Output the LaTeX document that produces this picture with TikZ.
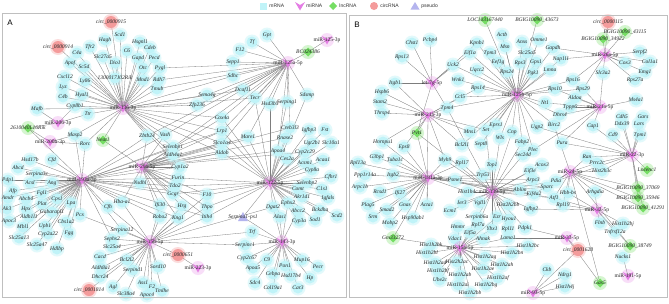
\documentclass[tikz,border=0pt]{standalone}
\usepackage{fontspec}
\setmainfont{Liberation Serif}
\newfontfamily\legf{Liberation Sans}
\pgfdeclarelayer{bg}\pgfdeclarelayer{mid}
\pgfsetlayers{bg,mid,main}
\definecolor{mrc}{RGB}{192,243,248}
\definecolor{mic}{RGB}{228,125,228}
\definecolor{lnc}{RGB}{118,222,100}
\definecolor{crc}{RGB}{244,155,155}
\definecolor{psc}{RGB}{180,180,238}
\definecolor{edc}{RGB}{125,125,125}
\tikzset{
 mt/.style={font=\fontsize{5.5}{6}\selectfont\itshape, inner sep=0.2pt, text=black!85},
 ht/.style={font=\fontsize{5.5}{6}\selectfont, inner sep=0.2pt, text=black!85},
 lt/.style={font=\legf\fontsize{5}{6}\selectfont, inner sep=0.2pt, anchor=west, text=black!80},
 ed/.style={draw=edc, line width=0.3pt},
 frame/.style={draw=black!25, line width=0.4pt},
}
\def\mrlist{}\def\milist{}\def\lnlist{}\def\crlist{}\def\pslist{}
\newcommand\addto[2]{\ifx#1\empty\xdef#1{#2}\else\xdef#1{#1,#2}\fi}
\newcommand\gMR[3]{\node[mt] (#1) at (#2) {#3};\addto\mrlist{#1}}
\newcommand\gMI[3]{\node[ht] (#1) at (#2) {#3};\addto\milist{#1}}
\newcommand\gLN[3]{\node[mt] (#1) at (#2) {#3};\addto\lnlist{#1}}
\newcommand\gCR[3]{\node[mt] (#1) at (#2) {#3};\addto\crlist{#1}}
\newcommand\gPS[3]{\node[mt] (#1) at (#2) {#3};\addto\pslist{#1}}
\newcommand\gE[2]{\foreach \t in {#2} \draw[ed] (#1.center) -- (\t.center);}
\begin{document}
\begin{tikzpicture}[x=1pt,y=-1pt]
\useasboundingbox (0,0) rectangle (669,303);
% frames
\draw[frame] (2,13) rectangle (346,297);
\draw[frame] (349,15) rectangle (667,297);
\node[font=\legf\fontsize{8}{9}\selectfont] (pA) at (10,23) {A};
\node[font=\legf\fontsize{8}{9}\selectfont] (pB) at (357,25) {B};
% legend
\fill[mrc] (259.5,2.5) rectangle (266.5,9.5);
\node[lt] (lg1) at (269,6) {mRNA};
\fill[mic,shift={(300,6)}] (-5,-4)--(0,-1)--(5,-4)--(0,4.5)--cycle;
\node[lt] (lg2) at (306,6) {miRNA};
\fill[lnc,shift={(333,6)}] (0,-4)--(4,0)--(0,4)--(-4,0)--cycle;
\node[lt] (lg3) at (339,6) {lncRNA};
\fill[crc] (374,6) circle (4pt);
\node[lt] (lg4) at (380,6) {circRNA};
\fill[psc,shift={(415,6)}] (0,-4)--(4.5,3.5)--(-4.5,3.5)--cycle;
\node[lt] (lg5) at (421,6) {pseudo};
% ================= PANEL A =================
\gCR{cA1}{111,22}{circ\_0000915}
\gCR{cA2}{58,47}{circ\_0000914}
\gCR{cA3}{178,255}{circ\_0000651}
\gCR{cA4}{89,290}{circ\_0001814}
\gLN{lA1}{308,52}{BC024386}
\gLN{lA2}{28,128}{2610040L16Rik}
\gLN{lA3}{103,140}{Neat1}
\gPS{pA1}{243,217}{Serpina1-ps1}
\gMR{a1}{90,47}{Tfr2}
\gMR{a2}{105,40}{Hagh}
\gMR{a3}{77,53}{C4a}
\gMR{a4}{103,57}{Slc27a5}
\gMR{a5}{70,63}{Apof}
\gMR{a6}{84,67}{Sc5d}
\gMR{a7}{65,77}{Cxcl12}
\gMR{a8}{85,81}{Ly86}
\gMR{a9}{115,78}{1300017J02Rik}
\gMR{a10}{63,87}{Lyz}
\gMR{a11}{82,95}{Hyal1}
\gMR{a12}{63,97}{C4b}
\gMR{a13}{75,106}{Cyp8b1}
\gMR{a14}{37,109}{Mafb}
\gMR{a15}{88,114}{Ttr}
\gMR{a16}{75,135}{Masp2}
\gMR{a17}{85,144}{Rorc}
\gMR{a18}{120,35}{Scd1}
\gMR{a19}{140,42}{Hsgnl1}
\gMR{a20}{150,48}{Cdeb}
\gMR{a21}{127,51}{C6}
\gMR{a22}{138,58}{Gapd}
\gMR{a23}{154,58}{Pecd}
\gMR{a24}{115,63}{Dio1}
\gMR{a25}{143,68}{Otc}
\gMR{a26}{160,68}{Pygl}
\gMR{a27}{143,80}{Mnd1}
\gMR{a28}{159,80}{Rdh7}
\gMR{a29}{157,89}{Tmub}
\gMR{a30}{207,95}{Sema4g}
\gMR{a31}{197,105}{Zfp236}
\gMR{a32}{222,118}{Cox4a}
\gMR{a33}{222,131}{Lrp1}
\gMR{a34}{147,136}{Zbtb24}
\gMR{a35}{165,135}{Vash}
\gMR{a36}{222,143}{Slco1a4}
\gMR{a37}{173,147}{Selenbp1}
\gMR{a38}{222,153}{Aldob}
\gMR{a39}{267,35}{Gpt}
\gMR{a40}{252,42}{Tf}
\gMR{a41}{240,50}{F12}
\gMR{a42}{233,62}{Sepp1}
\gMR{a43}{233,76}{Sdhc}
\gMR{a44}{243,90}{Dcaf11}
\gMR{a45}{255,98}{Tecr}
\gMR{a46}{270,104}{Hsd3b5}
\gMR{a47}{287,102}{Serping1}
\gMR{a48}{307,95}{Sdsmp}
\gMR{a49}{290,128}{Creb3l3}
\gMR{a50}{309,130}{Igfbp3}
\gMR{a51}{325,130}{Fst}
\gMR{a52}{248,137}{Mare1}
\gMR{a53}{285,138}{Rnase2}
\gMR{a54}{312,143}{Ugt2b1}
\gMR{a55}{331,143}{Slc10a1}
\gMR{a56}{278,151}{Apoa4}
\gMR{a57}{305,152}{Cyp2c29}
\gMR{a58}{30,160}{Hsd17b}
\gMR{a59}{52,160}{Cfd}
\gMR{a60}{18,168}{Abcd}
\gMR{a61}{37,174}{Serpina3c}
\gMR{a62}{8,180}{Pdp1}
\gMR{a63}{30,183}{Acsl}
\gMR{a64}{52,183}{Ang}
\gMR{a65}{13,191}{Afp}
\gMR{a66}{42,193}{Fgl1}
\gMR{a67}{8,198}{Amdr}
\gMR{a68}{26,199}{Abcb4}
\gMR{a69}{42,204}{Plat}
\gMR{a70}{57,199}{Cps1}
\gMR{a71}{26,209}{Hpx}
\gMR{a72}{7,209}{Ak3}
\gMR{a73}{71,203}{Lpa}
\gMR{a74}{29,217}{Aldh1l1}
\gMR{a75}{52,212}{Gabarapl1}
\gMR{a76}{9,221}{Apoc3}
\gMR{a77}{80,215}{Pcx}
\gMR{a78}{23,227}{Mbl1}
\gMR{a79}{45,226}{Upb1}
\gMR{a80}{66,222}{Cbs1a2}
\gMR{a81}{19,238}{Slc25a13}
\gMR{a82}{48,234}{Cyp2a22}
\gMR{a83}{69,233}{Fgg}
\gMR{a84}{37,245}{Slc25a47}
\gMR{a85}{57,249}{Hdlbp}
\gMR{a86}{108,207}{Cfh}
\gMR{a87}{122,230}{Serpina12}
\gMR{a88}{112,239}{Sephs2}
\gMR{a89}{112,247}{Slc25a4}
\gMR{a90}{100,257}{Cacd}
\gMR{a91}{101,268}{Aldh8a1}
\gMR{a92}{100,277}{Dhcr24}
\gMR{a93}{113,287}{Agl}
\gMR{a94}{173,155}{Aldh4a1}
\gMR{a95}{180,167}{Cyp1a2}
\gMR{a96}{140,183}{Nsdhl}
\gMR{a97}{178,178}{Furin}
\gMR{a98}{175,186}{Tdo2}
\gMR{a99}{173,194}{Gcgr}
\gMR{a100}{207,195}{F10}
\gMR{a101}{122,202}{Hba-a1}
\gMR{a102}{160,205}{Ifi30}
\gMR{a103}{182,206}{Hrg}
\gMR{a104}{207,207}{Thpo}
\gMR{a105}{160,217}{Robo2}
\gMR{a106}{178,218}{Kng1}
\gMR{a107}{207,217}{Itih4}
\gMR{a108}{127,260}{Bcl2l2}
\gMR{a109}{133,270}{Serpind1}
\gMR{a110}{158,267}{Sord10}
\gMR{a111}{143,283}{Ass1}
\gMR{a112}{152,287}{F2}
\gMR{a113}{162,291}{Tmlhe}
\gMR{a114}{126,294}{Slc38a4}
\gMR{a115}{147,295}{Apoc4}
\gMR{a116}{287,159}{Ces2a}
\gMR{a117}{305,163}{Acsm1}
\gMR{a118}{323,160}{Acaa1}
\gMR{a119}{312,170}{Cyp8a}
\gMR{a120}{307,183}{Selenbp2}
\gMR{a121}{331,177}{Cfhr1}
\gMR{a122}{298,189}{Comt}
\gMR{a123}{322,189}{C1s1}
\gMR{a124}{302,197}{Akr1d1}
\gMR{a125}{328,198}{Igfals}
\gMR{a126}{273,207}{Dgat2}
\gMR{a127}{288,203}{Ephx2}
\gMR{a128}{298,211}{Abcc2}
\gMR{a129}{320,210}{Bckdha}
\gMR{a130}{337,216}{Scd2}
\gMR{a131}{280,217}{Alas1}
\gMR{a132}{299,221}{Cyp3a}
\gMR{a133}{315,220}{Sod1}
\gMR{a134}{252,232}{Trf}
\gMR{a135}{245,245}{Serpinc1}
\gMR{a136}{247,258}{Cyp2c67}
\gMR{a137}{267,260}{C9}
\gMR{a138}{302,260}{Mup16}
\gMR{a139}{253,268}{Apoa5}
\gMR{a140}{285,266}{Pon1}
\gMR{a141}{318,267}{Pecr}
\gMR{a142}{273,274}{Cebpa}
\gMR{a143}{291,276}{Hsd17b4}
\gMR{a144}{310,278}{Hp}
\gMR{a145}{255,283}{Sdc4}
\gMR{a146}{273,288}{Col19a1}
\gMR{a147}{298,288}{Car3}
\gMI{hA1}{123,108}{miR-136-3p}
\gMI{hA2}{288,63}{miR-125a-5p}
\gMI{hA3}{327,40}{miR-125-3p}
\gMI{hA4}{82,180}{miR-193a-3p}
\gMI{hA5}{142,167}{miR-29a-5p}
\gMI{hA6}{150,242}{miR-15b-5p}
\gMI{hA7}{270,183}{miR-122-5p}
\gMI{hA8}{282,242}{miR-143-3p}
\gMI{hA9}{198,268}{miR-223-3p}
\gMI{hA10}{58,123}{miR-206-3p}
\gMI{hA11}{50,142}{miR-200b-3p}
% ================= PANEL B =================
\gCR{cB1}{608,22}{circ\_0000115}
\gCR{cB2}{578,250}{circ\_0001628}
\gLN{lB1}{485,20}{LOC103167440}
\gLN{lB2}{537,20}{BGIG10090\_43673}
\gLN{lB3}{625,32}{BGIG10090\_43115}
\gLN{lB4}{603,39}{BGIG10090\_34922}
\gLN{lB5}{417,133}{Pvt1}
\gLN{lB6}{393,238}{Gm33272}
\gLN{lB7}{647,170}{Lncenc1}
\gLN{lB8}{638,188}{BGIG10090\_37069}
\gLN{lB9}{638,198}{BGIG10090\_35946}
\gLN{lB10}{643,208}{BGIG10090\_41291}
\gLN{lB11}{630,246}{BGIG10090\_38749}
\gLN{lB12}{600,283}{Gas5}
\gMR{b1}{430,40}{Pcbp4}
\gMR{b2}{412,43}{Chst1}
\gMR{b3}{402,57}{Rps13}
\gMR{b4}{395,83}{Itgb1}
\gMR{b5}{382,92}{Hspb6}
\gMR{b6}{380,102}{Stam2}
\gMR{b7}{382,113}{Thrsp4}
\gMR{b8}{447,108}{Tpm4}
\gMR{b9}{383,142}{Hnrnpu1}
\gMR{b10}{404,147}{Eps8}
\gMR{b11}{502,35}{Actb}
\gMR{b12}{505,47}{Msn}
\gMR{b13}{477,43}{Kpnb1}
\gMR{b14}{522,42}{Anxs}
\gMR{b15}{539,40}{Omme1}
\gMR{b16}{470,53}{Eif1a}
\gMR{b17}{490,53}{Tpm3}
\gMR{b18}{527,53}{Slc25a5}
\gMR{b19}{553,48}{Gapdh}
\gMR{b20}{498,62}{Eef1g}
\gMR{b21}{520,63}{Rps3}
\gMR{b22}{536,62}{Gpx1}
\gMR{b23}{561,59}{Nap1l1}
\gMR{b24}{453,65}{Uck2}
\gMR{b25}{477,70}{Uqcc2}
\gMR{b26}{507,72}{Rps24}
\gMR{b27}{533,73}{Pgk1}
\gMR{b28}{550,70}{Lmna}
\gMR{b29}{458,80}{Wnk1}
\gMR{b30}{478,88}{Rps14}
\gMR{b31}{460,97}{Ccl5}
\gMR{b32}{555,89}{Rps10}
\gMR{b33}{573,80}{Rps16}
\gMR{b34}{583,89}{Rps29}
\gMR{b35}{545,103}{Nt1}
\gMR{b36}{575,98}{Aldoa}
\gMR{b37}{570,107}{Tppp6}
\gMR{b38}{470,132}{Mns1}
\gMR{b39}{486,130}{Set}
\gMR{b40}{496,125}{Eprs1}
\gMR{b41}{512,132}{Cnp}
\gMR{b42}{537,127}{Ugp2}
\gMR{b43}{554,125}{Birc2}
\gMR{b44}{462,145}{Bcl2l1}
\gMR{b45}{481,144}{Sept8}
\gMR{b46}{500,138}{Wls}
\gMR{b47}{522,142}{Fabp2}
\gMR{b48}{533,150}{Plec}
\gMR{b49}{562,143}{Pura}
\gMR{b50}{640,52}{Serpf2}
\gMR{b51}{650,62}{Col1a1}
\gMR{b52}{625,63}{Cox3}
\gMR{b53}{645,72}{Emg1}
\gMR{b54}{603,73}{Slc3a2}
\gMR{b55}{635,80}{Rps27a}
\gMR{b56}{636,100}{Ms4a1}
\gMR{b57}{560,115}{Dhrs4}
\gMR{b58}{622,117}{Cdh5}
\gMR{b59}{643,117}{Gars}
\gMR{b60}{622,124}{Ddx39}
\gMR{b61}{639,124}{Lars}
\gMR{b62}{593,126}{Cap1}
\gMR{b63}{613,135}{Cd9}
\gMR{b64}{640,135}{Tpm1}
\gMR{b65}{358,163}{Rpl13a}
\gMR{b66}{377,157}{G3bp1}
\gMR{b67}{395,160}{Tuba1c}
\gMR{b68}{445,160}{Myh9}
\gMR{b69}{365,175}{Ppp1r14a}
\gMR{b70}{393,175}{Itgb2}
\gMR{b71}{360,187}{Arpc1b}
\gMR{b72}{380,192}{Rcsd1}
\gMR{b73}{400,193}{Ifi27}
\gMR{b74}{368,205}{Plag5}
\gMR{b75}{387,210}{Smad2}
\gMR{b76}{405,205}{Gnas}
\gMR{b77}{427,205}{Acta1}
\gMR{b78}{373,217}{Srm}
\gMR{b79}{413,218}{Hsp90ab1}
\gMR{b80}{390,223}{Mobp2}
\gMR{b81}{431,245}{Hist1h2bk}
\gMR{b82}{427,253}{Hist1h2bl}
\gMR{b83}{435,263}{Hist1h2ad}
\gMR{b84}{438,271}{Hist1h2bf}
\gMR{b85}{440,280}{Ube2c}
\gMR{b86}{523,155}{Sec24d}
\gMR{b87}{462,163}{Rpl17}
\gMR{b88}{492,165}{Top1}
\gMR{b89}{542,165}{Acox3}
\gMR{b90}{530,171}{Eif3e}
\gMR{b91}{483,175}{Trp53}
\gMR{b92}{533,180}{Arpc3}
\gMR{b93}{556,181}{Pdia}
\gMR{b94}{455,180}{Psme1}
\gMR{b95}{468,192}{Hist1h4c}
\gMR{b96}{520,190}{Ablim}
\gMR{b97}{534,194}{Eif4a2}
\gMR{b98}{547,187}{Sparc}
\gMR{b99}{554,198}{Atf1}
\gMR{b100}{462,203}{Ier3}
\gMR{b101}{480,203}{Vgll1}
\gMR{b102}{508,205}{Hist2h2bb}
\gMR{b103}{531,209}{Igfbp2}
\gMR{b104}{450,211}{Ecm1}
\gMR{b105}{477,217}{Serpinb6a}
\gMR{b106}{497,217}{Ezr}
\gMR{b107}{509,219}{Hyou1}
\gMR{b108}{525,228}{Pdpk1}
\gMR{b109}{478,225}{Rpl7a}
\gMR{b110}{492,229}{Ybx1}
\gMR{b111}{508,229}{Rpl11}
\gMR{b112}{458,227}{Hmmr}
\gMR{b113}{470,233}{Eif5a}
\gMR{b114}{455,239}{Vdac1}
\gMR{b115}{483,239}{Ahnak}
\gMR{b116}{508,238}{Lama1}
\gMR{b117}{528,246}{Hist1h2bc}
\gMR{b118}{485,257}{Hist1h2ag}
\gMR{b119}{512,253}{Hist1h2bn}
\gMR{b120}{502,265}{Hist1h2ah}
\gMR{b121}{457,262}{Hist2h2ac}
\gMR{b122}{483,269}{Hist1h2ae}
\gMR{b123}{460,275}{Hist1h2ab}
\gMR{b124}{498,278}{Hist1h2af}
\gMR{b125}{458,285}{Hist1h2ai}
\gMR{b126}{486,285}{Hist1h2bg}
\gMR{b127}{470,293}{Hist1h2bb}
\gMR{b128}{547,270}{Ckb}
\gMR{b129}{587,157}{Ran}
\gMR{b130}{597,163}{Prrc2c}
\gMR{b131}{602,171}{Hist2h3c}
\gMR{b132}{595,192}{Arhgdia}
\gMR{b133}{568,193}{Hbb-bs}
\gMR{b134}{563,205}{Rpl19}
\gMR{b135}{600,223}{Flnb}
\gMR{b136}{623,224}{Hist1h2bj}
\gMR{b137}{615,232}{Tnfrsf12a}
\gMR{b138}{623,257}{Nucks1}
\gMR{b139}{565,275}{Ndrg1}
\gMR{b140}{565,287}{Hist1h4j}
\gMI{hB1}{432,83}{let-7g-5p}
\gMI{hB2}{428,115}{miR-21a-3p}
\gMI{hB3}{517,95}{miR-125b-5p}
\gMI{hB4}{605,55}{miR-26a-5p}
\gMI{hB5}{600,107}{miR-21a-5p}
\gMI{hB6}{632,155}{miR-22-3p}
\gMI{hB7}{428,178}{miR-181a-3p}
\gMI{hB8}{492,192}{miR-139-5p}
\gMI{hB9}{460,248}{miR-15a-5p}
\gMI{hB10}{570,172}{miR-24-5p}
\gMI{hB11}{597,210}{miR-32-5p}
\gMI{hB12}{567,238}{miR-33-5p}
\gMI{hB13}{628,276}{miR-191-5p}
\gMI{hB14}{533,293}{miR-93-5p}
% ================= SHAPES (one layer block) =================
\begin{pgfonlayer}{mid}
\foreach \n in \mrlist {\fill[mrc,opacity=0.45] (\n.center) circle (7.5pt);\fill[mrc] (\n.center) circle (5.5pt);}
\foreach \n in \crlist {\fill[crc,opacity=0.35] (\n.center) circle (8pt);\fill[crc] (\n.center) circle (6pt);}
\foreach \n in \lnlist {\fill[lnc,opacity=0.3] (\n.center) circle (7pt);\fill[lnc,shift={(\n.center)}] (0,-4.5)--(4.5,0)--(0,4.5)--(-4.5,0)--cycle;}
\foreach \n in \pslist {\fill[psc,shift={(\n.center)}] (0,-5)--(5,4)--(-5,4)--cycle;}
\foreach \n in \milist {\fill[mic,opacity=0.25] (\n.center) circle (7pt);\fill[mic,shift={(\n.center)}] (-5,-4)--(0,-1)--(5,-4)--(0,4.5)--cycle;}
\end{pgfonlayer}
% ================= EDGES =================
\begin{pgfonlayer}{bg}
\fill[white] (0,0) rectangle (669,303);
\gE{hA1}{cA1,cA2,a1,a2,a3,a4,a5,a6,a7,a8,a9,a10,a11,a12,a13,a14,a15,a16,a17,a18,a19,a20,a21,a22,a23,a24,a25,a26,a27,a28,a29,lA3,a30,a31,a32,a33,a36,a38,a44,a43,a45,a34,a35,a37,a94,a95}
\gE{hA10}{lA2,a14,a15,a13}
\gE{hA11}{lA2,a16,a17}
\gE{hA2}{a39,a40,a41,a42,a43,a44,a45,a46,a47,a48,lA1,a30,a31,a32,a33,a36,a52,a49,a56,a34,a35,a37,a28,a29,a26}
\gE{hA3}{lA1}
\gE{hA4}{a58,a59,a60,a61,a62,a63,a64,a65,a66,a67,a68,a69,a70,a71,a72,a73,a74,a75,a76,a77,a78,a79,a80,a81,a82,a83,a84,a85,a86,a16,a17,lA2,a101,a96,a34,a35,a37,a94,a95,a97,a98,a99,a100,a105,a106,a107,a87,a88,a38,a36,a33}
\gE{hA5}{a94,a95,a96,a97,a98,a99,a100,a101,a102,a103,a104,a105,a106,a107,a34,a35,a37,lA3,a38,a36,a49,a53,a56,a57,a52,a32,a33}
\gE{hA6}{a87,a88,a89,a90,a91,a92,a93,a108,a109,a110,a111,a112,a113,a114,a115,cA3,cA4,a101,a102,a105,a106,a134,a135,a107,a104,a103,a77,a86,a100,a126}
\gE{hA9}{cA3}
\gE{hA7}{a56,a57,a116,a117,a118,a119,a120,a121,a122,a123,a124,a125,a126,a127,a128,a129,a130,a131,a132,a133,a49,a50,a51,a53,a54,a55,a52,pA1,a100,a104,a107,a38,a36,a33,a32,a46,a47,a45,a48,a99,a98,a97}
\gE{hA8}{a134,a135,a136,a137,a138,a139,a140,a141,a142,a143,a144,a145,a146,a147,a131,a126,a127,a128,pA1}
\gE{hB1}{b1,b2,b3,b8,lB5,b24,b13,b16,b4}
\gE{hB2}{b4,b5,b6,b7,b8,lB5,b9,b10,b38,b39,b44,b31,b30,b68,b77}
\gE{hB3}{lB1,lB2,b11,b12,b13,b14,b15,b16,b17,b18,b19,b20,b21,b22,b23,b24,b25,b26,b27,b28,b29,b30,b31,b32,b33,b34,b35,b38,b39,b40,b41,b42,b43,b44,b45,b46,b47,b48,b8,b57}
\gE{hB4}{cB1,lB3,lB4,b50,b51,b52,b53,b54,b55,b33,b34,b23,b19}
\gE{hB5}{b56,b36,b37,b34,b32,b54,b62,b57,b49,b48,b35}
\gE{hB6}{b58,b59,b60,b61,b63,b64,b62,lB7,b130,b129,lB8,lB9,lB10,b131,b49,b93,b42}
\gE{hB7}{b65,b66,b67,b68,b69,b70,b71,b72,b73,b74,b75,b76,b77,b78,b79,b80,b10,b9,b94,b87,b91,b95,b96,b97,b98,b99,b92,lB6,lB5}
\gE{hB8}{b86,b87,b88,b89,b90,b91,b92,b93,b94,b95,b96,b97,b98,b99,b100,b101,b102,b103,b104,b105,b106,b107,b108,b109,b110,b111,b68,b8,b39,b41,b46,b47,lB5}
\gE{hB9}{b81,b82,b83,b84,b85,b112,b113,b114,b115,b116,b117,b118,b119,b120,b121,b122,b123,b124,b125,b126,b127,b109,b110,b106,b105,lB6}
\gE{hB10}{b129,b130,b131,b133,b134,b132,b93,b99,b98,b97,lB8,lB9,lB10,lB11,lB12,b43}
\gE{hB11}{b132,b135,b136,b137,b133,b134,b99,b103,lB11}
\gE{hB12}{cB2,b108,b116,lB12}
\gE{hB13}{b138}
\gE{hB14}{b128,cB2,b139,b140}
\end{pgfonlayer}
\end{tikzpicture}
\end{document}
